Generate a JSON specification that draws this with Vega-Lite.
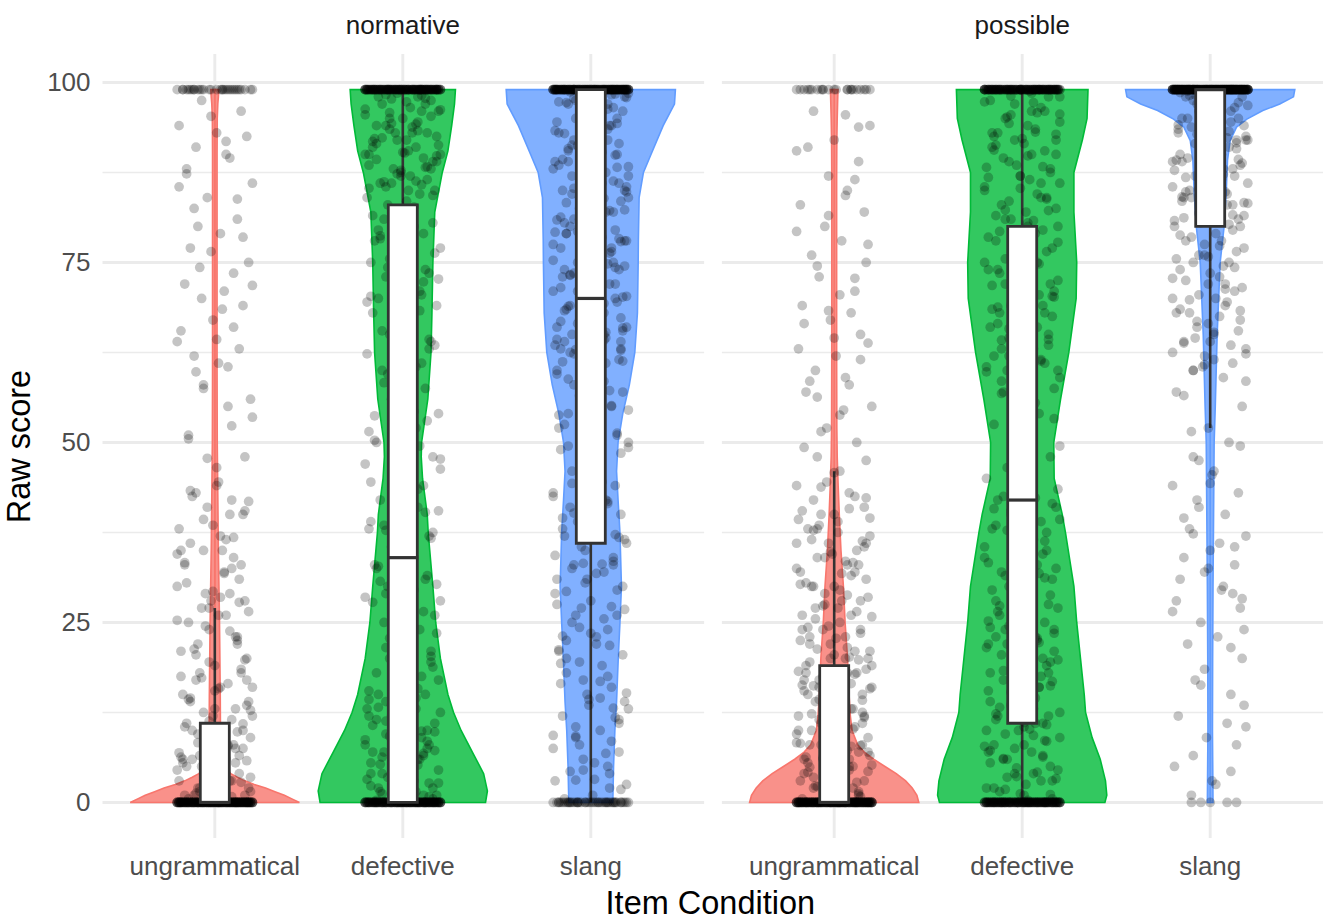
{
"$schema": "https://vega.github.io/schema/vega-lite/v6.json",
"background": "white",
"padding": {"left": 3, "top": 12, "right": 0, "bottom": 0},
"data": {"values": [
{"k":"b","f":"normative","c":"ungrammatical","lo":0,"q1":0,"med":0,"q3":11,"hi":27},
{"k":"b","f":"normative","c":"defective","lo":0,"q1":0,"med":34,"q3":83,"hi":99},
{"k":"b","f":"normative","c":"slang","lo":0,"q1":36,"med":70,"q3":99,"hi":99},
{"k":"b","f":"possible","c":"ungrammatical","lo":0,"q1":0,"med":0,"q3":19,"hi":46},
{"k":"b","f":"possible","c":"defective","lo":0,"q1":11,"med":42,"q3":80,"hi":99},
{"k":"b","f":"possible","c":"slang","lo":52,"q1":80,"med":99,"q3":99,"hi":99},
{"k":"v","f":"normative","c":"ungrammatical","y":[0,0.5,1,1.5,2,2.5,3,3.5,4,5,6,8,10,15,20,25,30,35,40,45,50,60,70,80,90,95,97,98,99],"w":[0.45,0.41,0.37,0.32,0.27,0.21,0.16,0.12,0.085,0.055,0.04,0.03,0.03,0.029,0.027,0.025,0.022,0.019,0.017,0.015,0.013,0.012,0.012,0.012,0.012,0.013,0.016,0.019,0.021]},
{"k":"v","f":"normative","c":"defective","y":[0,1.6,4,7,10,12.5,15,20,25,30,37.5,40,45,48,50,56,62.5,68,75,82,87.5,90.5,94,97,99],"w":[0.44,0.45,0.43,0.37,0.31,0.27,0.24,0.2,0.175,0.16,0.135,0.13,0.105,0.098,0.1,0.133,0.15,0.155,0.16,0.17,0.21,0.24,0.26,0.275,0.28]},
{"k":"v","f":"normative","c":"slang","y":[0,5,10,14,20,25,30,37.5,42,46,50,54,58,62.5,68,75,78,84,87.5,90,94,97,99],"w":[0.117,0.121,0.128,0.137,0.146,0.155,0.163,0.155,0.145,0.137,0.145,0.17,0.205,0.234,0.248,0.252,0.253,0.257,0.28,0.32,0.385,0.445,0.45]},
{"k":"v","f":"possible","c":"ungrammatical","y":[0,1,2,3,4,5,6,7,8,10,12,15,20,25,30,35,40,44,48,52,62,75,87,92,95,97,99],"w":[0.45,0.44,0.415,0.38,0.33,0.27,0.21,0.16,0.125,0.095,0.086,0.079,0.071,0.058,0.049,0.036,0.027,0.021,0.016,0.014,0.013,0.013,0.013,0.014,0.016,0.018,0.02]},
{"k":"v","f":"possible","c":"defective","y":[0,1,3,6,9,12.5,15,20,25,30,37.5,40,45,50,56,62.5,70,75,82,87.5,92,95,99],"w":[0.44,0.45,0.443,0.415,0.372,0.337,0.33,0.31,0.29,0.275,0.23,0.213,0.17,0.168,0.204,0.248,0.287,0.29,0.275,0.275,0.32,0.345,0.35]},
{"k":"v","f":"possible","c":"slang","y":[0,10,20,30,40,50,55,65,75,80,84.6,89.2,91.9,93.8,94.9,96.1,97,98,99],"w":[0.015,0.012,0.013,0.015,0.018,0.021,0.027,0.037,0.053,0.074,0.085,0.092,0.106,0.14,0.195,0.28,0.37,0.443,0.45]},
{"k":"p","f":"normative","c":"ungrammatical","y":[0,0,0,0,0,0,0,0,0,0,0,0,0,0,0,0,0,0,0,0,0,0,0,0,0,0,0,0,0,0,0,0,0,0,0,0,0,0,0,0,0,0,0,0,0,99,99,99,99,99,99,99,99,99,99,99,99,1,2,3,1,4,5,2,6,7,3,8,9,10,2,5,11,12,4,13,14,6,15,16,3,17,18,7,19,20,21,8,22,23,24,9,25,26,27,28,1,29,30,31,12,32,33,34,35,14,36,37,38,40,41,42,43,44,16,18,22,5,26,28,33,6,35,10,23,29,17,2,13,35,40,27,48,51,55,56,58,61,62,63,64,66,67,69,70,71,72,75,77,79,80,81,84,86,88,90,91,93,94,96],
"w":[-3,14,-18,7,19,-9,2,-14,11,-6,17,-20,5,-11,9,0,-16,13,-2,18,-7,4,-13,16,-19,8,-4,12,-10,1,20,-15,6,-1,15,-12,10,-17,3,-8,17,-5,11,-18,2,14,-9,7,-14,19,-3,9,-20,12,-6,4,-11,16,-1,8,-16,13,-7,18,-12,1,-19,10,-4,15,-8,5,-15,20,-2,11,-13,6,-17,3,9,-10,14,-5,0,17,-18,7,-9,12,-3,19,-14,2,-7,16,-11,8,-20,13,-1,5,-16,10,-6,18,-13,3,-19,15,-4,9,-10,1,20,-8,12,-15,6,-2,14,-17,4,-12,11,-5,17,-9,0,-18,8,-3,16,-14,7,19,-6,2,-11,13,-20,10,-1,15,-7,5,-16,18,-13,3,-9,12,-4,20,-15,6,-10,1,-19,14,-2,9,-17,11,-8,17,-12,4,-5,16,-18,7,-3,13,-14,0,19,-11,8,-6,15,-20,2,-9,10,-1,18,-16,5,-7,12,-13,3,20,-4,14,-10,6,-15,11,-6,18,-12,3,9,-19,14,-1,7,-15,20,-8,1,-13,16,-4,11,-17,5,-10,13,-2,19,-16,8,-7,4,-11,17,-20,10,-3,15,-14,2,-9,12,-18,6,0]},
{"k":"p","f":"normative","c":"ungrammatical","y":[0,0,0,0,0,0,0,0,0,0,0,0,0,0,0,0,0,0,0,0,0,0,0,0,0,0,0,0,0,0,0,0,0,0,0,0,0,0,0,0,0,0,0,0,0,0,0,0,0,0,99,99,99,99,99,99,99,99,99,99,0.5,1.5,2.5,3.5,4.5,5.5,6.5,7.5,8.5,9.5,10.5,11.5,12.5,13.5,14.5,15.5,16.5,17.5,18.5,19.5,20.5,22.5,24.5,26.5,28.5,30.5,32.5,34.5,36.5,38.5,40.5,42.5,44.5,1.5,3.5,5.5,7.5,2.5,6.5,9.5,46.5,50.5,53.5,57.5,60.5,65.5,68.5,73.5,76.5,78.5,82.5,85.5,89.5,92.5,97.5],
"w":[8,-12,19,-4,1,-17,13,-8,5,20,-14,3,-19,10,-2,16,-9,6,-15,12,-6,18,-1,-11,15,-20,4,9,-16,2,-7,17,-13,11,0,-18,7,14,-3,-10,20,-5,3,-15,12,-9,18,-2,6,-19,10,-12,1,16,-7,-17,13,4,-11,8,-14,19,-4,2,-20,11,-8,15,-1,5,-16,9,-6,17,-13,0,7,-18,14,-3,-10,12,-5,18,3,-15,9,-20,6,-1,16,-12,2,-8,19,-17,11,-4,13,-9,1,-14,20,-6,7,-18,4,10,-2,15,-11,-19,8,17,-7,5,-13,14,0,-16,3,-9,18,-3,11,-20,6,13,-14,1,-6,16,-10,19,-1,8,-17,4,-12,15,-5,9,-18,2,12,-8,20,-15,7,-2,17,-11,5,-19,10,-4,14,-7,0,-13,16,-16,2,9,-5,19,-12,6,-9,13,-1,-18,11,3,-14,18,-7,8,-20,4,15,-3,-10,12,1,-15,7,20,-6,10,-17,5,-11,17,-2,14,-19,0,-8,6,11,-4,-13,19,2,-10,15,-16,8,-1,13,-7,4,17,-18,-3,9,-12,20,-5,1,-9,14,-15,5,18,-20,10,-6,3,-11,16,-2,12,-17,7,-14,0,6,-8]},
{"k":"p","f":"normative","c":"ungrammatical","y":[0,0,0,0,0,0,0,0,0,0,0,0,0,0,0,0,0,0,0,0,0,0,0,0,0,0,0,0,0,0,0,0,0,0,0,0,0,0,0,0,0,0,0,0,0,0,0,0,0,0,0,0,0,0,0,0,0,0,0,0,0,0,0,0,0,0,0,0,0,0,99,99,99,99,99,99,99,99,99,99,0.8,1.3,2.8,3.3,4.8,5.8,6.3,7.8,8.3,9.8,11.3,12.8,14.3,15.8,17.3,19.8,21.3,23.8,25.3,27.8,29.3,31.8,33.3,36.8,39.3,41.8,43.3,3.9,6.9,10.9,47.8,52.3,59.8,64.3,71.8,74.3,83.8,87.3,91.8,95.3],
"w":[-3,14,-18,7,19,-9,2,-14,11,-6,17,-20,5,-11,9,0,-16,13,-2,18,-7,4,-13,16,-19,8,-4,12,-10,1,20,-15,6,-1,15,-12,10,-17,3,-8,17,-5,11,-18,2,14,-9,7,-14,19,-3,9,-20,12,-6,4,-11,16,-1,8,-16,13,-7,18,-12,1,-19,10,-4,15,-8,5,-15,20,-2,11,-13,6,-17,3,9,-10,14,-5,0,17,-18,7,-9,12,-3,19,-14,2,-7,16,-11,8,-20,13,-1,5,-16,10,-6,18,-13,3,-19,15,-4,9,-10,1,20,-8,12,-15,6,-2]},
{"k":"p","f":"normative","c":"defective","y":[0,0,0,0,0,0,0,0,0,0,0,0,0,0,0,0,0,0,0,0,0,0,0,0,0,0,0,0,0,0,0,0,0,0,0,99,99,99,99,99,99,99,99,99,99,99,99,99,99,99,99,99,99,99,99,99,99,99,99,99,99,99,99,99,99,99,99,99,99,99,99,99,99,99,99,1,2,3,4,5,6,7,8,9,10,11,12,13,14,15,16,17,18,19,20,2,4,6,8,10,3,5,7,9,12,1,15,11,13,21,22,24,25,27,28,30,31,33,34,36,37,39,40,42,44,23,26,29,35,38,41,46,48,50,52,54,56,58,60,53,47,61,62,64,65,66,68,69,70,72,73,74,76,77,78,80,81,82,84,63,67,71,75,79,83,85,86,87,88,89,90,91,92,93,94,95,96,97,98,86,88,90,92,94,96,87,89,91,93,95,97,98,85,90,93],
"w":[-3,14,-18,7,19,-9,2,-14,11,-6,17,-20,5,-11,9,0,-16,13,-2,18,-7,4,-13,16,-19,8,-4,12,-10,1,20,-15,6,-1,15,-12,10,-17,3,-8,17,-5,11,-18,2,14,-9,7,-14,19,-3,9,-20,12,-6,4,-11,16,-1,8,-16,13,-7,18,-12,1,-19,10,-4,15,-8,5,-15,20,-2,11,-13,6,-17,3,9,-10,14,-5,0,17,-18,7,-9,12,-3,19,-14,2,-7,16,-11,8,-20,13,-1,5,-16,10,-6,18,-13,3,-19,15,-4,9,-10,1,20,-8,12,-15,6,-2,14,-17,4,-12,11,-5,17,-9,0,-18,8,-3,16,-14,7,19,-6,2,-11,13,-20,10,-1,15,-7,5,-16,18,-13,3,-9,12,-4,20,-15,6,-10,1,-19,14,-2,9,-17,11,-8,17,-12,4,-5,16,-18,7,-3,13,-14,0,19,-11,8,-6,15,-20,2,-9,10,-1,18,-16,5,-7,12,-13,3,20,-4,14,-10,6,-15,11,-6,18,-12,3,9,-19,14,-1,7,-15,20,-8,1,-13,16,-4,11,-17,5,-10,13,-2,19,-16,8,-7,4,-11,17,-20,10,-3,15,-14,2,-9,12,-18,6,0]},
{"k":"p","f":"normative","c":"defective","y":[0,0,0,0,0,0,0,0,0,0,0,0,0,0,0,0,0,0,0,0,0,0,0,0,0,0,0,0,0,0,0,0,0,0,0,0,0,0,0,0,0,0,0,0,0,99,99,99,99,99,99,99,99,99,99,99,99,99,99,99,99,99,99,99,99,99,99,99,99,99,99,99,99,99,99,99,99,99,99,99,99,99,99,99,99,99,99,99,99,99,0.5,1.5,2.5,3.5,4.5,5.5,6.5,7.5,8.5,9.5,10.5,11.5,12.5,13.5,14.5,15.5,16.5,17.5,18.5,19.5,1.2,3.2,5.2,7.2,9.2,11.2,13.2,2.7,6.7,10.7,20.5,21.5,23.5,25.5,26.5,28.5,29.5,31.5,32.5,34.5,35.5,37.5,38.5,40.5,41.5,43.5,44.5,22.7,30.7,36.7,45.5,49.5,51.5,55.5,57.5,59.5,47.7,53.7,60.5,61.5,63.5,65.5,67.5,69.5,70.5,71.5,73.5,75.5,77.5,79.5,80.5,81.5,83.5,84.5,66.7,72.7,78.7,82.7,85.5,86.5,87.5,88.5,89.5,90.5,91.5,92.5,93.5,94.5,95.5,96.5,97.5,98.5,86.2,88.2,90.2,92.2,94.2,96.2,97.7,98.2],
"w":[8,-12,19,-4,1,-17,13,-8,5,20,-14,3,-19,10,-2,16,-9,6,-15,12,-6,18,-1,-11,15,-20,4,9,-16,2,-7,17,-13,11,0,-18,7,14,-3,-10,20,-5,3,-15,12,-9,18,-2,6,-19,10,-12,1,16,-7,-17,13,4,-11,8,-14,19,-4,2,-20,11,-8,15,-1,5,-16,9,-6,17,-13,0,7,-18,14,-3,-10,12,-5,18,3,-15,9,-20,6,-1,16,-12,2,-8,19,-17,11,-4,13,-9,1,-14,20,-6,7,-18,4,10,-2,15,-11,-19,8,17,-7,5,-13,14,0,-16,3,-9,18,-3,11,-20,6,13,-14,1,-6,16,-10,19,-1,8,-17,4,-12,15,-5,9,-18,2,12,-8,20,-15,7,-2,17,-11,5,-19,10,-4,14,-7,0,-13,16,-16,2,9,-5,19,-12,6,-9,13,-1,-18,11,3,-14,18,-7,8,-20,4,15,-3,-10,12,1,-15,7,20,-6,10,-17,5,-11,17,-2,14,-19,0,-8,6,11,-4,-13,19,2,-10,15,-16,8,-1,13,-7,4,17,-18,-3,9,-12,20,-5,1,-9,14,-15,5,18,-20,10,-6,3,-11,16,-2,12,-17,7,-14,0,6,-8]},
{"k":"p","f":"normative","c":"defective","y":[0,0,0,0,0,0,0,0,0,0,0,0,0,0,0,0,0,0,0,0,0,0,0,0,0,0,0,0,0,0,0,0,0,0,0,0,0,0,0,0,0,0,0,0,0,0,0,0,0,0,0,0,0,0,0,0,0,0,0,0,99,99,99,99,99,99,99,99,99,99,99,99,99,99,99,99,99,99,99,99,99,99,99,99,99,99,99,99,99,99,99,99,99,99,99,99,99,99,99,99,99,99,99,99,99,99,99,99,99,99,99,99,99,99,99,99,99,99,99,99,0.8,2.3,3.8,5.3,6.8,8.3,9.8,11.3,12.8,14.3,15.8,17.3,18.8,0.3,1.5,2.7,3.9,5.1,6.3,7.5,8.7,9.9,11.1,20.3,22.8,25.3,27.8,30.3,32.8,35.3,37.8,40.3,42.8,46.3,50.3,54.3,58.3,60.3,62.3,64.3,66.3,68.3,70.3,72.3,74.3,76.3,78.3,80.3,82.3,84.3,85.3,86.3,87.3,88.3,89.3,90.3,91.3,92.3,93.3,94.3,95.3,96.3,97.3,98.3,85.8,87.8,89.8,91.8,93.8,95.8,97.8],
"w":[-3,14,-18,7,19,-9,2,-14,11,-6,17,-20,5,-11,9,0,-16,13,-2,18,-7,4,-13,16,-19,8,-4,12,-10,1,20,-15,6,-1,15,-12,10,-17,3,-8,17,-5,11,-18,2,14,-9,7,-14,19,-3,9,-20,12,-6,4,-11,16,-1,8,-16,13,-7,18,-12,1,-19,10,-4,15,-8,5,-15,20,-2,11,-13,6,-17,3,9,-10,14,-5,0,17,-18,7,-9,12,-3,19,-14,2,-7,16,-11,8,-20,13,-1,5,-16,10,-6,18,-13,3,-19,15,-4,9,-10,1,20,-8,12,-15,6,-2,14,-17,4,-12,11,-5,17,-9,0,-18,8,-3,16,-14,7,19,-6,2,-11,13,-20,10,-1,15,-7,5,-16,18,-13,3,-9,12,-4,20,-15,6,-10,1,-19,14,-2,9,-17,11,-8,17,-12,4,-5,16,-18,7,-3,13,-14,0,19,-11,8,-6,15,-20,2,-9,10,-1,18,-16,5,-7,12,-13,3,20,-4,14,-10,6,-15,11,-6,18,-12,3,9,-19,14,-1,7,-15,20,-8,1,-13,16,-4,11,-17,5,-10,13,-2,19,-16,8,-7,4,-11,17,-20,10,-3,15,-14,2,-9,12,-18,6,0]},
{"k":"p","f":"normative","c":"slang","y":[99,99,99,99,99,99,99,99,99,99,99,99,99,99,99,99,99,99,99,99,99,99,99,99,99,99,99,99,99,99,99,99,99,99,99,99,99,99,99,99,99,99,99,99,99,99,99,99,99,99,0,0,0,0,0,0,0,0,0,0,0,0,0,0,0,1,3,4,6,7,9,10,12,13,15,16,18,19,21,22,24,25,26,27,28,30,31,32,33,34,35,36,37,38,39,40,41,42,43,44,45,47,49,2,8,14,20,23,29,11,17,5,46,48,50,26,33,38,42,31,51,52,53,54,55,56,57,58,59,60,61,62,63,64,65,66,67,68,69,70,71,72,73,74,75,76,77,78,79,80,81,82,83,84,85,86,87,88,89,90,91,92,93,94,95,96,97,98,62,64,66,68,70,72,74,76,78,80,82,84,86,88,90,92,94,96,98,63,67,71,75,79,83,87,91,95,65,69,73,77,81,85,89,93,97],
"w":[-3,14,-18,7,19,-9,2,-14,11,-6,17,-20,5,-11,9,0,-16,13,-2,18,-7,4,-13,16,-19,8,-4,12,-10,1,20,-15,6,-1,15,-12,10,-17,3,-8,17,-5,11,-18,2,14,-9,7,-14,19,-3,9,-20,12,-6,4,-11,16,-1,8,-16,13,-7,18,-12,1,-19,10,-4,15,-8,5,-15,20,-2,11,-13,6,-17,3,9,-10,14,-5,0,17,-18,7,-9,12,-3,19,-14,2,-7,16,-11,8,-20,13,-1,5,-16,10,-6,18,-13,3,-19,15,-4,9,-10,1,20,-8,12,-15,6,-2,14,-17,4,-12,11,-5,17,-9,0,-18,8,-3,16,-14,7,19,-6,2,-11,13,-20,10,-1,15,-7,5,-16,18,-13,3,-9,12,-4,20,-15,6,-10,1,-19,14,-2,9,-17,11,-8,17,-12,4,-5,16,-18,7,-3,13,-14,0,19,-11,8,-6,15,-20,2,-9,10,-1,18,-16,5,-7,12,-13,3,20,-4,14,-10,6,-15,11,-6,18,-12,3,9,-19,14,-1,7,-15,20,-8,1,-13,16,-4,11,-17,5,-10,13,-2,19,-16,8,-7,4,-11,17,-20,10,-3,15,-14,2,-9,12,-18,6,0]},
{"k":"p","f":"normative","c":"slang","y":[99,99,99,99,99,99,99,99,99,99,99,99,99,99,99,99,99,99,99,99,99,99,99,99,99,99,99,99,99,99,99,99,99,99,99,99,99,99,99,99,99,99,99,99,99,99,99,99,99,99,0,0,0,0,0,0,0,0,0,0,0.5,2.5,4.5,5.5,7.5,8.5,10.5,11.5,13.5,14.5,16.5,17.5,19.5,20.5,22.5,23.5,25.5,27.5,29.5,30.5,32.5,33.5,35.5,36.5,38.5,39.5,41.5,42.5,44.5,46.5,48.5,49.5,3.2,9.2,15.2,21.2,27.2,33.2,37.2,40.2,50.5,52.5,54.5,56.5,58.5,59.5,53.2,57.2,60.5,61.5,62.5,63.5,64.5,65.5,66.5,67.5,68.5,69.5,70.5,71.5,72.5,73.5,74.5,75.5,76.5,77.5,78.5,79.5,80.5,81.5,82.5,83.5,84.5,85.5,86.5,87.5,88.5,89.5,90.5,91.5,92.5,93.5,94.5,95.5,96.5,97.5,98.5,61.2,64.2,67.2,70.2,73.2,76.2,79.2,82.2,85.2,88.2,91.2,94.2,97.2,62.8,66.8,70.8,74.8,78.8,84.8,90.8,95.8,97.8,98.4],
"w":[8,-12,19,-4,1,-17,13,-8,5,20,-14,3,-19,10,-2,16,-9,6,-15,12,-6,18,-1,-11,15,-20,4,9,-16,2,-7,17,-13,11,0,-18,7,14,-3,-10,20,-5,3,-15,12,-9,18,-2,6,-19,10,-12,1,16,-7,-17,13,4,-11,8,-14,19,-4,2,-20,11,-8,15,-1,5,-16,9,-6,17,-13,0,7,-18,14,-3,-10,12,-5,18,3,-15,9,-20,6,-1,16,-12,2,-8,19,-17,11,-4,13,-9,1,-14,20,-6,7,-18,4,10,-2,15,-11,-19,8,17,-7,5,-13,14,0,-16,3,-9,18,-3,11,-20,6,13,-14,1,-6,16,-10,19,-1,8,-17,4,-12,15,-5,9,-18,2,12,-8,20,-15,7,-2,17,-11,5,-19,10,-4,14,-7,0,-13,16,-16,2,9,-5,19,-12,6,-9,13,-1,-18,11,3,-14,18,-7,8,-20,4,15,-3,-10,12,1,-15,7,20,-6,10,-17,5,-11,17,-2,14,-19,0,-8,6,11,-4,-13,19,2,-10,15,-16,8,-1,13,-7,4,17,-18,-3,9,-12,20,-5,1,-9,14,-15,5,18,-20,10,-6,3,-11,16,-2,12,-17,7,-14,0,6,-8]},
{"k":"p","f":"normative","c":"slang","y":[99,99,99,99,99,99,99,99,99,99,99,99,99,99,99,99,99,99,99,99,99,99,99,99,99,99,99,99,99,99,99,99,99,99,99,99,99,99,99,99,99,99,99,99,99,99,99,99,99,99,99,99,99,99,99,99,99,99,99,99,99,99,99,99,99,99,99,99,99,99,0,0,0,0,0,0,0,0,0,0,0,0,0,0,0,0,0,0,0,0,0,0,0,0,0,1.8,4.3,6.8,9.3,11.8,14.3,16.8,19.3,21.8,24.3,26.8,29.3,31.8,34.3,36.8,39.3,41.8,44.3,46.8,49.3,3.1,13.1,23.1,33.1,43.1,51.3,53.8,56.3,58.8,55.1,60.3,61.3,62.3,63.3,64.3,65.3,66.3,67.3,68.3,69.3,70.3,71.3,72.3,73.3,74.3,75.3,76.3,77.3,78.3,79.3,80.3,81.3,82.3,83.3,84.3,85.3,86.3,87.3,88.3,89.3,90.3,91.3,92.3,93.3,94.3,95.3,96.3,97.3,98.3,62.9,65.9,68.9,71.9,74.9,77.9,80.9,83.9,86.9,89.9,92.9,95.9,97.9,98.7],
"w":[-3,14,-18,7,19,-9,2,-14,11,-6,17,-20,5,-11,9,0,-16,13,-2,18,-7,4,-13,16,-19,8,-4,12,-10,1,20,-15,6,-1,15,-12,10,-17,3,-8,17,-5,11,-18,2,14,-9,7,-14,19,-3,9,-20,12,-6,4,-11,16,-1,8,-16,13,-7,18,-12,1,-19,10,-4,15,-8,5,-15,20,-2,11,-13,6,-17,3,9,-10,14,-5,0,17,-18,7,-9,12,-3,19,-14,2,-7,16,-11,8,-20,13,-1,5,-16,10,-6,18,-13,3,-19,15,-4,9,-10,1,20,-8,12,-15,6,-2,14,-17,4,-12,11,-5,17,-9,0,-18,8,-3,16,-14,7,19,-6,2,-11,13,-20,10,-1,15,-7,5,-16,18,-13,3,-9,12,-4,20,-15,6,-10,1,-19,14,-2,9,-17,11,-8,17,-12,4,-5,16,-18,7,-3,13,-14,0,19,-11,8,-6,15,-20,2,-9,10,-1,18,-16,5,-7,12,-13,3,20,-4,14,-10,6,-15,11,-6,18,-12,3,9,-19,14,-1,7,-15,20,-8,1,-13,16,-4,11,-17,5,-10,13,-2,19,-16,8,-7,4,-11,17,-20,10,-3,15,-14,2,-9,12,-18,6,0]},
{"k":"p","f":"possible","c":"ungrammatical","y":[0,0,0,0,0,0,0,0,0,0,0,0,0,0,0,0,0,0,0,0,0,0,0,0,0,0,0,0,0,0,0,0,0,0,0,0,0,0,0,0,0,0,0,0,0,99,99,99,99,99,99,99,99,99,99,1,2,3,4,5,6,7,8,9,10,11,12,13,14,15,16,17,18,19,20,21,22,23,24,25,26,27,28,29,30,31,32,33,34,35,36,37,38,39,40,41,42,43,44,1,2,3,4,5,6,7,8,9,10,11,12,13,14,15,16,17,18,19,20,22,24,26,28,30,32,34,36,38,40,3,6,9,12,15,18,21,24,27,30,33,36,2,5,8,11,14,17,20,23,46,48,50,52,55,57,59,60,62,63,65,67,68,69,71,73,75,76,78,80,82,83,85,87,89,91,92,94,96,58],
"w":[-3,14,-18,7,19,-9,2,-14,11,-6,17,-20,5,-11,9,0,-16,13,-2,18,-7,4,-13,16,-19,8,-4,12,-10,1,20,-15,6,-1,15,-12,10,-17,3,-8,17,-5,11,-18,2,14,-9,7,-14,19,-3,9,-20,12,-6,4,-11,16,-1,8,-16,13,-7,18,-12,1,-19,10,-4,15,-8,5,-15,20,-2,11,-13,6,-17,3,9,-10,14,-5,0,17,-18,7,-9,12,-3,19,-14,2,-7,16,-11,8,-20,13,-1,5,-16,10,-6,18,-13,3,-19,15,-4,9,-10,1,20,-8,12,-15,6,-2,14,-17,4,-12,11,-5,17,-9,0,-18,8,-3,16,-14,7,19,-6,2,-11,13,-20,10,-1,15,-7,5,-16,18,-13,3,-9,12,-4,20,-15,6,-10,1,-19,14,-2,9,-17,11,-8,17,-12,4,-5,16,-18,7,-3,13,-14,0,19,-11,8,-6,15,-20,2,-9,10,-1,18,-16,5,-7,12,-13,3,20,-4,14,-10,6,-15,11,-6,18,-12,3,9,-19,14,-1,7,-15,20,-8,1,-13,16,-4,11,-17,5,-10,13,-2,19,-16,8,-7,4,-11,17,-20,10,-3,15,-14,2,-9,12,-18,6,0]},
{"k":"p","f":"possible","c":"ungrammatical","y":[0,0,0,0,0,0,0,0,0,0,0,0,0,0,0,0,0,0,0,0,0,0,0,0,0,0,0,0,0,0,0,0,0,0,0,0,0,0,0,0,0,0,0,0,0,0,0,0,0,0,99,99,99,99,99,0.5,1.5,2.5,3.5,4.5,5.5,6.5,7.5,8.5,9.5,10.5,11.5,12.5,13.5,14.5,15.5,16.5,17.5,18.5,19.5,20.5,21.5,22.5,23.5,24.5,25.5,26.5,27.5,28.5,29.5,30.5,31.5,32.5,33.5,34.5,35.5,36.5,37.5,38.5,39.5,40.5,42.5,44.5,1.2,2.2,3.2,4.2,5.2,6.2,7.2,8.2,9.2,10.2,12.2,14.2,16.2,18.2,20.2,47.5,51.5,54.5,58.5,61.5,64.5,66.5,70.5,74.5,77.5,81.5,86.5,90.5,95.5],
"w":[8,-12,19,-4,1,-17,13,-8,5,20,-14,3,-19,10,-2,16,-9,6,-15,12,-6,18,-1,-11,15,-20,4,9,-16,2,-7,17,-13,11,0,-18,7,14,-3,-10,20,-5,3,-15,12,-9,18,-2,6,-19,10,-12,1,16,-7,-17,13,4,-11,8,-14,19,-4,2,-20,11,-8,15,-1,5,-16,9,-6,17,-13,0,7,-18,14,-3,-10,12,-5,18,3,-15,9,-20,6,-1,16,-12,2,-8,19,-17,11,-4,13,-9,1,-14,20,-6,7,-18,4,10,-2,15,-11,-19,8,17,-7,5,-13,14,0,-16,3,-9,18,-3,11,-20,6,13,-14,1,-6,16,-10,19,-1,8,-17,4,-12,15,-5,9,-18,2,12,-8,20,-15,7,-2,17,-11,5,-19,10,-4,14,-7,0,-13,16,-16,2,9,-5,19,-12,6,-9,13,-1,-18,11,3,-14,18,-7,8,-20,4,15,-3,-10,12,1,-15,7,20,-6,10,-17,5,-11,17,-2,14,-19,0,-8,6,11,-4,-13,19,2,-10,15,-16,8,-1,13,-7,4,17,-18,-3,9,-12,20,-5,1,-9,14,-15,5,18,-20,10,-6,3,-11,16,-2,12,-17,7,-14,0,6,-8]},
{"k":"p","f":"possible","c":"ungrammatical","y":[0,0,0,0,0,0,0,0,0,0,0,0,0,0,0,0,0,0,0,0,0,0,0,0,0,0,0,0,0,0,0,0,0,0,0,0,0,0,0,0,0,0,0,0,0,0,0,0,0,0,0,0,0,0,0,0,0,0,0,0,0,0,0,0,0,0,0,0,0,0,99,99,99,99,99,99,99,99,0.8,1.3,2.3,2.8,3.8,4.3,5.8,6.3,7.8,8.3,9.8,10.3,11.8,12.3,13.8,14.3,15.8,16.3,17.8,18.3,19.8,21.3,22.8,24.3,25.8,27.3,28.8,30.3,31.8,33.3,34.8,36.3,37.8,39.3,40.8,42.3,43.8,1.9,4.9,7.9,45.8,49.3,53.8,56.3,63.8,68.3,72.8,79.3,84.3,93.8],
"w":[8,-12,19,-4,1,-17,13,-8,5,20,-14,3,-19,10,-2,16,-9,6,-15,12,-6,18,-1,-11,15,-20,4,9,-16,2,-7,17,-13,11,0,-18,7,14,-3,-10,20,-5,3,-15,12,-9,18,-2,6,-19,10,-12,1,16,-7,-17,13,4,-11,8,-14,19,-4,2,-20,11,-8,15,-1,5,-16,9,-6,17,-13,0,7,-18,14,-3,-10,12,-5,18,3,-15,9,-20,6,-1,16,-12,2,-8,19,-17,11,-4,13,-9,1,-14,20,-6,7,-18,4,10,-2,15,-11,-19,8,17,-7,5,-13,14,0,-16,3,-9,18,-3,11,-20,6,13,-14,1,-6,16,-10,19,-1,8,-17,4,-12,15,-5,9,-18,2,12,-8,20,-15,7,-2,17,-11,5,-19,10,-4,14,-7,0,-13]},
{"k":"p","f":"possible","c":"defective","y":[0,0,0,0,0,0,0,0,0,0,0,0,0,0,0,0,0,0,0,0,0,0,0,0,0,0,0,0,0,0,99,99,99,99,99,99,99,99,99,99,99,99,99,99,99,99,99,99,99,99,99,99,99,99,99,99,99,99,99,99,99,99,99,99,99,1,2,3,4,5,6,7,8,9,10,11,12,13,14,15,16,17,18,19,20,21,22,23,24,25,26,27,28,29,30,31,32,33,34,35,36,37,38,39,40,41,42,43,45,48,51,54,57,58,59,60,61,62,63,64,65,66,67,68,69,70,71,72,73,74,75,76,77,78,79,80,81,82,83,84,85,86,87,88,89,90,91,92,93,94,95,96,97,98,2,4,6,8,10,12,14,16,18,20,22,24,26,28,30,3,7,11,15,19,23,27,60,63,66,69,72,75,78,81,84,87,90,93,96,62,68,74,80,86,92,98],
"w":[-3,14,-18,7,19,-9,2,-14,11,-6,17,-20,5,-11,9,0,-16,13,-2,18,-7,4,-13,16,-19,8,-4,12,-10,1,20,-15,6,-1,15,-12,10,-17,3,-8,17,-5,11,-18,2,14,-9,7,-14,19,-3,9,-20,12,-6,4,-11,16,-1,8,-16,13,-7,18,-12,1,-19,10,-4,15,-8,5,-15,20,-2,11,-13,6,-17,3,9,-10,14,-5,0,17,-18,7,-9,12,-3,19,-14,2,-7,16,-11,8,-20,13,-1,5,-16,10,-6,18,-13,3,-19,15,-4,9,-10,1,20,-8,12,-15,6,-2,14,-17,4,-12,11,-5,17,-9,0,-18,8,-3,16,-14,7,19,-6,2,-11,13,-20,10,-1,15,-7,5,-16,18,-13,3,-9,12,-4,20,-15,6,-10,1,-19,14,-2,9,-17,11,-8,17,-12,4,-5,16,-18,7,-3,13,-14,0,19,-11,8,-6,15,-20,2,-9,10,-1,18,-16,5,-7,12,-13,3,20,-4,14,-10,6,-15,11,-6,18,-12,3,9,-19,14,-1,7,-15,20,-8,1,-13,16,-4,11,-17,5,-10,13,-2,19,-16,8,-7,4,-11,17,-20,10,-3,15,-14,2,-9,12,-18,6,0]},
{"k":"p","f":"possible","c":"defective","y":[0,0,0,0,0,0,0,0,0,0,0,0,0,0,0,0,0,0,0,0,0,0,0,0,0,0,0,0,0,0,0,0,0,0,0,0,0,0,0,0,0,0,0,0,0,99,99,99,99,99,99,99,99,99,99,99,99,99,99,99,99,99,99,99,99,99,99,99,99,99,99,99,99,99,99,99,99,99,99,99,99,99,99,99,99,99,99,99,99,99,0.5,1.5,2.5,3.5,4.5,5.5,6.5,7.5,8.5,9.5,10.5,11.5,12.5,13.5,14.5,15.5,16.5,17.5,18.5,19.5,20.5,21.5,22.5,23.5,24.5,25.5,26.5,27.5,28.5,29.5,30.5,31.5,32.5,33.5,34.5,35.5,36.5,37.5,38.5,39.5,40.5,41.5,42.5,43.5,1.2,4.2,7.2,10.2,13.2,16.2,19.2,22.2,25.2,28.2,31.2,46.5,49.5,52.5,55.5,56.5,57.5,58.5,59.5,60.5,61.5,62.5,63.5,64.5,65.5,66.5,67.5,68.5,69.5,70.5,71.5,72.5,73.5,74.5,75.5,76.5,77.5,78.5,79.5,80.5,81.5,82.5,83.5,84.5,85.5,86.5,87.5,88.5,89.5,90.5,91.5,92.5,93.5,94.5,95.5,96.5,97.5,98.5,64.2,70.2,76.2,82.2,88.2,92.2,95.2,97.2],
"w":[8,-12,19,-4,1,-17,13,-8,5,20,-14,3,-19,10,-2,16,-9,6,-15,12,-6,18,-1,-11,15,-20,4,9,-16,2,-7,17,-13,11,0,-18,7,14,-3,-10,20,-5,3,-15,12,-9,18,-2,6,-19,10,-12,1,16,-7,-17,13,4,-11,8,-14,19,-4,2,-20,11,-8,15,-1,5,-16,9,-6,17,-13,0,7,-18,14,-3,-10,12,-5,18,3,-15,9,-20,6,-1,16,-12,2,-8,19,-17,11,-4,13,-9,1,-14,20,-6,7,-18,4,10,-2,15,-11,-19,8,17,-7,5,-13,14,0,-16,3,-9,18,-3,11,-20,6,13,-14,1,-6,16,-10,19,-1,8,-17,4,-12,15,-5,9,-18,2,12,-8,20,-15,7,-2,17,-11,5,-19,10,-4,14,-7,0,-13,16,-16,2,9,-5,19,-12,6,-9,13,-1,-18,11,3,-14,18,-7,8,-20,4,15,-3,-10,12,1,-15,7,20,-6,10,-17,5,-11,17,-2,14,-19,0,-8,6,11,-4,-13,19,2,-10,15,-16,8,-1,13,-7,4,17,-18,-3,9,-12,20,-5,1,-9,14,-15,5,18,-20,10,-6,3,-11,16,-2,12,-17,7,-14,0,6,-8]},
{"k":"p","f":"possible","c":"defective","y":[0,0,0,0,0,0,0,0,0,0,0,0,0,0,0,0,0,0,0,0,0,0,0,0,0,0,0,0,0,0,0,0,0,0,0,0,0,0,0,0,0,0,0,0,0,0,0,0,0,0,0,0,0,0,0,0,0,0,0,0,99,99,99,99,99,99,99,99,99,99,99,99,99,99,99,99,99,99,99,99,99,99,99,99,99,99,99,99,99,99,99,99,99,99,99,99,99,99,99,99,99,99,99,99,99,99,99,99,99,99,99,99,99,99,99,99,99,99,99,99,0.3,1.8,3.3,4.8,6.3,7.8,9.3,10.8,12.3,13.8,15.3,16.8,18.3,19.8,21.3,22.8,24.3,25.8,27.3,28.8,30.3,31.8,33.3,34.8,36.3,37.8,39.3,40.8,42.3,47.3,53.3,56.8,58.3,59.8,61.3,62.8,64.3,65.8,67.3,68.8,70.3,71.8,73.3,74.8,76.3,77.8,79.3,80.8,82.3,83.8,85.3,86.8,88.3,89.8,91.3,92.8,94.3,95.8,97.3,98.8,1.1,3.6,6.1,8.6,11.1,90.6,93.1,95.6,98.1],
"w":[8,-12,19,-4,1,-17,13,-8,5,20,-14,3,-19,10,-2,16,-9,6,-15,12,-6,18,-1,-11,15,-20,4,9,-16,2,-7,17,-13,11,0,-18,7,14,-3,-10,20,-5,3,-15,12,-9,18,-2,6,-19,10,-12,1,16,-7,-17,13,4,-11,8,-14,19,-4,2,-20,11,-8,15,-1,5,-16,9,-6,17,-13,0,7,-18,14,-3,-10,12,-5,18,3,-15,9,-20,6,-1,16,-12,2,-8,19,-17,11,-4,13,-9,1,-14,20,-6,7,-18,4,10,-2,15,-11,-19,8,17,-7,5,-13,14,0,-16,3,-9,18,-3,11,-20,6,13,-14,1,-6,16,-10,19,-1,8,-17,4,-12,15,-5,9,-18,2,12,-8,20,-15,7,-2,17,-11,5,-19,10,-4,14,-7,0,-13,16,-16,2,9,-5,19,-12,6,-9,13,-1,-18,11,3,-14,18,-7,8,-20,4,15,-3,-10,12,1,-15,7,20,-6,10,-17,5,-11,17,-2,14,-19,0,-8,6,11,-4,-13,19,2,-10,15,-16,8,-1,13,-7,4,17,-18,-3,9,-12,20,-5,1,-9,14,-15,5,18,-20,10,-6,3,-11,16,-2,12,-17,7,-14,0,6,-8]},
{"k":"p","f":"possible","c":"slang","y":[99,99,99,99,99,99,99,99,99,99,99,99,99,99,99,99,99,99,99,99,99,99,99,99,99,99,99,99,99,99,99,99,99,99,99,99,99,99,99,99,99,99,99,99,99,99,99,99,99,99,99,99,99,99,99,99,99,99,99,99,99,99,99,99,99,99,99,99,99,99,99,99,99,99,99,99,99,99,99,99,0,0,0,0,0,55,57,59,60,61,62,63,64,65,66,67,68,69,70,71,72,73,74,75,76,77,78,79,80,81,82,83,84,85,86,87,88,89,90,91,92,93,94,95,96,97,98,60,64,68,72,76,80,84,88,92,96,82,85,87,89,91,93,95,97,86,90,94,98,70,75,83,88,92,95,78,1,3,5,8,9,11,12,15,17,20,22,23,25,27,28,30,32,33,34,35,37,38,40,41,43,44,46,48,50,52,24,31,36,42,29],
"w":[-3,14,-18,7,19,-9,2,-14,11,-6,17,-20,5,-11,9,0,-16,13,-2,18,-7,4,-13,16,-19,8,-4,12,-10,1,20,-15,6,-1,15,-12,10,-17,3,-8,17,-5,11,-18,2,14,-9,7,-14,19,-3,9,-20,12,-6,4,-11,16,-1,8,-16,13,-7,18,-12,1,-19,10,-4,15,-8,5,-15,20,-2,11,-13,6,-17,3,9,-10,14,-5,0,17,-18,7,-9,12,-3,19,-14,2,-7,16,-11,8,-20,13,-1,5,-16,10,-6,18,-13,3,-19,15,-4,9,-10,1,20,-8,12,-15,6,-2,14,-17,4,-12,11,-5,17,-9,0,-18,8,-3,16,-14,7,19,-6,2,-11,13,-20,10,-1,15,-7,5,-16,18,-13,3,-9,12,-4,20,-15,6,-10,1,-19,14,-2,9,-17,11,-8,17,-12,4,-5,16,-18,7,-3,13,-14,0,19,-11,8,-6,15,-20,2,-9,10,-1,18,-16,5,-7,12,-13,3,20,-4,14,-10,6,-15,11,-6,18,-12,3,9,-19,14,-1,7,-15,20,-8,1,-13,16,-4,11,-17,5,-10,13,-2,19,-16,8,-7,4,-11,17,-20,10,-3,15,-14,2,-9,12,-18,6,0]},
{"k":"p","f":"possible","c":"slang","y":[99,99,99,99,99,99,99,99,99,99,99,99,99,99,99,99,99,99,99,99,99,99,99,99,99,99,99,99,99,99,99,99,99,99,99,99,99,99,99,99,99,99,99,99,99,99,99,99,99,99,99,99,99,99,99,99,99,99,99,99,56.5,58.5,60.5,61.5,62.5,63.5,64.5,65.5,66.5,67.5,68.5,69.5,70.5,71.5,72.5,73.5,74.5,75.5,76.5,77.5,78.5,79.5,80.5,81.5,82.5,83.5,84.5,85.5,86.5,87.5,88.5,89.5,90.5,91.5,92.5,93.5,94.5,95.5,96.5,97.5,98.5,81.2,83.2,85.2,87.2,89.2,91.2,93.2,95.2,97.2,98.2,80.8,84.8,88.8,92.8,96.8,86.8,90.8,94.8,98.6,2.5,6.5,13.5,18.5,21.5,26.5,29.5,35.5,39.5,45.5,47.5,49.5,51.5,10.5,32.5],
"w":[8,-12,19,-4,1,-17,13,-8,5,20,-14,3,-19,10,-2,16,-9,6,-15,12,-6,18,-1,-11,15,-20,4,9,-16,2,-7,17,-13,11,0,-18,7,14,-3,-10,20,-5,3,-15,12,-9,18,-2,6,-19,10,-12,1,16,-7,-17,13,4,-11,8,-14,19,-4,2,-20,11,-8,15,-1,5,-16,9,-6,17,-13,0,7,-18,14,-3,-10,12,-5,18,3,-15,9,-20,6,-1,16,-12,2,-8,19,-17,11,-4,13,-9,1,-14,20,-6,7,-18,4,10,-2,15,-11,-19,8,17,-7,5,-13,14,0,-16,3,-9,18,-3,11,-20,6,13,-14,1,-6,16,-10,19,-1,8,-17,4,-12,15,-5,9,-18,2,12,-8,20,-15,7,-2,17,-11,5,-19,10,-4,14,-7,0,-13,16,-16,2,9,-5,19,-12,6,-9,13,-1,-18,11,3,-14,18,-7,8,-20,4,15,-3,-10,12,1,-15,7,20,-6,10,-17,5,-11,17,-2,14,-19,0,-8,6,11,-4,-13,19,2,-10,15,-16,8,-1,13,-7,4,17,-18,-3,9,-12,20,-5,1,-9,14,-15,5,18,-20,10,-6,3,-11,16,-2,12,-17,7,-14,0,6,-8]},
{"k":"p","f":"possible","c":"slang","y":[99,99,99,99,99,99,99,99,99,99,99,99,99,99,99,99,99,99,99,99,99,99,99,99,99,99,99,99,99,99,99,99,99,99,99,99,99,99,99,99,99,99,99,99,99,99,99,99,99,99,99,99,99,99,99,99,99,99,99,99,99,99,99,99,99,99,99,99,99,99,99,99,99,99,99,99,99,99,99,99,99,99,99,99,99,99,99,99,99,99,60.8,62.3,63.8,65.3,66.8,68.3,69.8,71.3,72.8,74.3,75.8,77.3,78.8,80.3,81.8,83.3,84.8,86.3,87.8,89.3,90.8,92.3,93.8,95.3,96.8,98.3,81.6,84.1,86.6,89.1,91.6,94.1,96.6,98.8,4.3,16.3,28.3,37.3,44.3],
"w":[-3,14,-18,7,19,-9,2,-14,11,-6,17,-20,5,-11,9,0,-16,13,-2,18,-7,4,-13,16,-19,8,-4,12,-10,1,20,-15,6,-1,15,-12,10,-17,3,-8,17,-5,11,-18,2,14,-9,7,-14,19,-3,9,-20,12,-6,4,-11,16,-1,8,-16,13,-7,18,-12,1,-19,10,-4,15,-8,5,-15,20,-2,11,-13,6,-17,3,9,-10,14,-5,0,17,-18,7,-9,12,-3,19,-14,2,-7,16,-11,8,-20,13,-1,5,-16,10,-6,18,-13,3,-19,15,-4,9,-10,1,20,-8,12,-15,6,-2,14,-17,4,-12,11,-5,17,-9,0,-18,8,-3,16,-14,7,19,-6,2,-11,13,-20,10,-1,15,-7,5,-16,18,-13,3,-9,12,-4,20,-15,6,-10,1,-19,14,-2,9,-17,11,-8,17,-12,4,-5,16,-18,7,-3,13,-14,0,19,-11,8,-6,15,-20,2,-9,10,-1,18,-16,5,-7,12,-13,3,20,-4,14,-10,6,-15,11,-6,18,-12,3,9,-19,14,-1,7,-15,20,-8,1,-13,16,-4,11,-17,5,-10,13,-2,19,-16,8,-7,4,-11,17,-20,10,-3,15,-14,2,-9,12,-18,6,0]}
]},
"spacing": 17.4,
"hconcat": [
 {"transform": [{"filter": "datum.f === 'normative'"}],
  "width": 601.6, "height": 784.1,
  "title": {"text": "normative", "frame": "group", "anchor": "middle", "fontSize": 26, "fontWeight": "normal", "color": "#1A1A1A", "font": "Liberation Sans", "offset": 14},
  "resolve": {"scale": {"x": "independent"}},
  "layer": [
    {"transform": [{"filter": "datum.k === 'b'"}],
     "mark": {"type": "rule", "color": "#EBEBEB", "strokeWidth": 2.9},
     "encoding": {"x": {"field": "c", "type": "nominal", "sort": null, "scale": {"domain": ["ungrammatical", "defective", "slang"], "paddingInner": 0, "paddingOuter": 0.1}, "axis": null}}},
    {"transform": [{"filter": "datum.k === 'v' && datum.c === 'ungrammatical'"}, {"flatten": ["y", "w"]}],
     "mark": {"type": "area", "orient": "horizontal", "opacity": 1, "fillOpacity": 1, "fill": "#F9918A", "stroke": "#F8766D", "strokeWidth": 1.6},
     "encoding": {"y": {"field": "y", "type": "quantitative", "title": "Raw score", "scale": {"domain": [-4.95, 103.95], "nice": false, "zero": false}, "axis": {"values": [0, 12.5, 25, 37.5, 50, 62.5, 75, 87.5, 100], "labelExpr": "datum.value % 25 === 0 ? datum.label : ''", "gridWidth": {"condition": {"test": "datum.value % 25 === 0", "value": 2.9}, "value": 1.45}}},
       "x": {"field": "w", "type": "quantitative", "stack": null, "scale": {"domain": [-0.6, 2.6], "nice": false}, "axis": null}}},
    {"transform": [{"filter": "datum.k === 'v' && datum.c === 'ungrammatical'"}, {"flatten": ["y", "w"]}],
     "mark": {"type": "area", "orient": "horizontal", "opacity": 1, "fillOpacity": 1, "fill": "#F9918A", "stroke": "#F8766D", "strokeWidth": 1.6},
     "encoding": {"y": {"field": "y", "type": "quantitative", "title": "Raw score", "scale": {"domain": [-4.95, 103.95], "nice": false, "zero": false}, "axis": {"values": [0, 12.5, 25, 37.5, 50, 62.5, 75, 87.5, 100], "labelExpr": "datum.value % 25 === 0 ? datum.label : ''", "gridWidth": {"condition": {"test": "datum.value % 25 === 0", "value": 2.9}, "value": 1.45}}},
       "x": {"field": "w", "type": "quantitative", "stack": null, "scale": {"domain": [-2.6, 0.6], "nice": false, "reverse": true}, "axis": null}}},
    {"transform": [{"filter": "datum.k === 'v' && datum.c === 'defective'"}, {"flatten": ["y", "w"]}],
     "mark": {"type": "area", "orient": "horizontal", "opacity": 1, "fillOpacity": 1, "fill": "#33C860", "stroke": "#00BA38", "strokeWidth": 1.6},
     "encoding": {"y": {"field": "y", "type": "quantitative", "title": "Raw score", "scale": {"domain": [-4.95, 103.95], "nice": false, "zero": false}, "axis": {"values": [0, 12.5, 25, 37.5, 50, 62.5, 75, 87.5, 100], "labelExpr": "datum.value % 25 === 0 ? datum.label : ''", "gridWidth": {"condition": {"test": "datum.value % 25 === 0", "value": 2.9}, "value": 1.45}}},
       "x": {"field": "w", "type": "quantitative", "stack": null, "scale": {"domain": [-1.6, 1.6], "nice": false}, "axis": null}}},
    {"transform": [{"filter": "datum.k === 'v' && datum.c === 'defective'"}, {"flatten": ["y", "w"]}],
     "mark": {"type": "area", "orient": "horizontal", "opacity": 1, "fillOpacity": 1, "fill": "#33C860", "stroke": "#00BA38", "strokeWidth": 1.6},
     "encoding": {"y": {"field": "y", "type": "quantitative", "title": "Raw score", "scale": {"domain": [-4.95, 103.95], "nice": false, "zero": false}, "axis": {"values": [0, 12.5, 25, 37.5, 50, 62.5, 75, 87.5, 100], "labelExpr": "datum.value % 25 === 0 ? datum.label : ''", "gridWidth": {"condition": {"test": "datum.value % 25 === 0", "value": 2.9}, "value": 1.45}}},
       "x": {"field": "w", "type": "quantitative", "stack": null, "scale": {"domain": [-1.6, 1.6], "nice": false, "reverse": true}, "axis": null}}},
    {"transform": [{"filter": "datum.k === 'v' && datum.c === 'slang'"}, {"flatten": ["y", "w"]}],
     "mark": {"type": "area", "orient": "horizontal", "opacity": 1, "fillOpacity": 1, "fill": "#81B0FF", "stroke": "#619CFF", "strokeWidth": 1.6},
     "encoding": {"y": {"field": "y", "type": "quantitative", "title": "Raw score", "scale": {"domain": [-4.95, 103.95], "nice": false, "zero": false}, "axis": {"values": [0, 12.5, 25, 37.5, 50, 62.5, 75, 87.5, 100], "labelExpr": "datum.value % 25 === 0 ? datum.label : ''", "gridWidth": {"condition": {"test": "datum.value % 25 === 0", "value": 2.9}, "value": 1.45}}},
       "x": {"field": "w", "type": "quantitative", "stack": null, "scale": {"domain": [-2.6, 0.6], "nice": false}, "axis": null}}},
    {"transform": [{"filter": "datum.k === 'v' && datum.c === 'slang'"}, {"flatten": ["y", "w"]}],
     "mark": {"type": "area", "orient": "horizontal", "opacity": 1, "fillOpacity": 1, "fill": "#81B0FF", "stroke": "#619CFF", "strokeWidth": 1.6},
     "encoding": {"y": {"field": "y", "type": "quantitative", "title": "Raw score", "scale": {"domain": [-4.95, 103.95], "nice": false, "zero": false}, "axis": {"values": [0, 12.5, 25, 37.5, 50, 62.5, 75, 87.5, 100], "labelExpr": "datum.value % 25 === 0 ? datum.label : ''", "gridWidth": {"condition": {"test": "datum.value % 25 === 0", "value": 2.9}, "value": 1.45}}},
       "x": {"field": "w", "type": "quantitative", "stack": null, "scale": {"domain": [-0.6, 2.6], "nice": false, "reverse": true}, "axis": null}}},
    {"transform": [{"filter": "datum.k === 'b'"}],
     "mark": {"type": "rule", "color": "#333333", "strokeWidth": 2.6},
     "encoding": {"x": {"field": "c", "type": "nominal", "sort": null, "scale": {"domain": ["ungrammatical", "defective", "slang"], "paddingInner": 0, "paddingOuter": 0.1}, "axis": {"title": null, "grid": false, "ticks": false, "domain": false, "labelAngle": 0, "labelFontSize": 26, "labelColor": "#4D4D4D", "labelPadding": 15}},
       "y": {"field": "lo", "type": "quantitative", "title": "Raw score", "scale": {"domain": [-4.95, 103.95], "nice": false, "zero": false}, "axis": {"values": [0, 12.5, 25, 37.5, 50, 62.5, 75, 87.5, 100], "labelExpr": "datum.value % 25 === 0 ? datum.label : ''", "gridWidth": {"condition": {"test": "datum.value % 25 === 0", "value": 2.9}, "value": 1.45}}},
       "y2": {"field": "hi"}}},
    {"transform": [{"filter": "datum.k === 'p'"}, {"flatten": ["y", "w"]}, {"filter": "isValid(datum.y)"}],
     "mark": {"type": "circle", "size": 95, "color": "#000000", "opacity": 0.23},
     "encoding": {"x": {"field": "c", "type": "nominal", "sort": null, "scale": {"domain": ["ungrammatical", "defective", "slang"], "paddingInner": 0, "paddingOuter": 0.1}, "axis": null},
       "xOffset": {"field": "w", "type": "quantitative", "scale": {"domain": [-50, 50], "nice": false}},
       "y": {"field": "y", "type": "quantitative", "title": "Raw score", "scale": {"domain": [-4.95, 103.95], "nice": false, "zero": false}, "axis": {"values": [0, 12.5, 25, 37.5, 50, 62.5, 75, 87.5, 100], "labelExpr": "datum.value % 25 === 0 ? datum.label : ''", "gridWidth": {"condition": {"test": "datum.value % 25 === 0", "value": 2.9}, "value": 1.45}}}}},
    {"transform": [{"filter": "datum.k === 'b'"}],
     "mark": {"type": "bar", "size": 29, "fill": "#FFFFFF", "stroke": "#333333", "strokeWidth": 2.8},
     "encoding": {"x": {"field": "c", "type": "nominal", "sort": null, "scale": {"domain": ["ungrammatical", "defective", "slang"], "paddingInner": 0, "paddingOuter": 0.1}, "axis": null},
       "y": {"field": "q1", "type": "quantitative", "title": "Raw score", "scale": {"domain": [-4.95, 103.95], "nice": false, "zero": false}, "axis": {"values": [0, 12.5, 25, 37.5, 50, 62.5, 75, 87.5, 100], "labelExpr": "datum.value % 25 === 0 ? datum.label : ''", "gridWidth": {"condition": {"test": "datum.value % 25 === 0", "value": 2.9}, "value": 1.45}}},
       "y2": {"field": "q3"}}},
    {"transform": [{"filter": "datum.k === 'b'"}],
     "mark": {"type": "tick", "size": 29, "thickness": 3.2, "color": "#333333", "opacity": 1},
     "encoding": {"x": {"field": "c", "type": "nominal", "sort": null, "scale": {"domain": ["ungrammatical", "defective", "slang"], "paddingInner": 0, "paddingOuter": 0.1}, "axis": null},
       "y": {"field": "med", "type": "quantitative", "title": "Raw score", "scale": {"domain": [-4.95, 103.95], "nice": false, "zero": false}, "axis": {"values": [0, 12.5, 25, 37.5, 50, 62.5, 75, 87.5, 100], "labelExpr": "datum.value % 25 === 0 ? datum.label : ''", "gridWidth": {"condition": {"test": "datum.value % 25 === 0", "value": 2.9}, "value": 1.45}}}}}
  ]},
 {"transform": [{"filter": "datum.f === 'possible'"}],
  "width": 601.6, "height": 784.1,
  "title": {"text": "possible", "frame": "group", "anchor": "middle", "fontSize": 26, "fontWeight": "normal", "color": "#1A1A1A", "font": "Liberation Sans", "offset": 14},
  "resolve": {"scale": {"x": "independent"}},
  "layer": [
    {"transform": [{"filter": "datum.k === 'b'"}],
     "mark": {"type": "rule", "color": "#EBEBEB", "strokeWidth": 2.9},
     "encoding": {"x": {"field": "c", "type": "nominal", "sort": null, "scale": {"domain": ["ungrammatical", "defective", "slang"], "paddingInner": 0, "paddingOuter": 0.1}, "axis": null}}},
    {"transform": [{"filter": "datum.k === 'v' && datum.c === 'ungrammatical'"}, {"flatten": ["y", "w"]}],
     "mark": {"type": "area", "orient": "horizontal", "opacity": 1, "fillOpacity": 1, "fill": "#F9918A", "stroke": "#F8766D", "strokeWidth": 1.6},
     "encoding": {"y": {"field": "y", "type": "quantitative", "title": null, "scale": {"domain": [-4.95, 103.95], "nice": false, "zero": false}, "axis": {"values": [0, 12.5, 25, 37.5, 50, 62.5, 75, 87.5, 100], "labels": false, "gridWidth": {"condition": {"test": "datum.value % 25 === 0", "value": 2.9}, "value": 1.45}}},
       "x": {"field": "w", "type": "quantitative", "stack": null, "scale": {"domain": [-0.6, 2.6], "nice": false}, "axis": null}}},
    {"transform": [{"filter": "datum.k === 'v' && datum.c === 'ungrammatical'"}, {"flatten": ["y", "w"]}],
     "mark": {"type": "area", "orient": "horizontal", "opacity": 1, "fillOpacity": 1, "fill": "#F9918A", "stroke": "#F8766D", "strokeWidth": 1.6},
     "encoding": {"y": {"field": "y", "type": "quantitative", "title": null, "scale": {"domain": [-4.95, 103.95], "nice": false, "zero": false}, "axis": {"values": [0, 12.5, 25, 37.5, 50, 62.5, 75, 87.5, 100], "labels": false, "gridWidth": {"condition": {"test": "datum.value % 25 === 0", "value": 2.9}, "value": 1.45}}},
       "x": {"field": "w", "type": "quantitative", "stack": null, "scale": {"domain": [-2.6, 0.6], "nice": false, "reverse": true}, "axis": null}}},
    {"transform": [{"filter": "datum.k === 'v' && datum.c === 'defective'"}, {"flatten": ["y", "w"]}],
     "mark": {"type": "area", "orient": "horizontal", "opacity": 1, "fillOpacity": 1, "fill": "#33C860", "stroke": "#00BA38", "strokeWidth": 1.6},
     "encoding": {"y": {"field": "y", "type": "quantitative", "title": null, "scale": {"domain": [-4.95, 103.95], "nice": false, "zero": false}, "axis": {"values": [0, 12.5, 25, 37.5, 50, 62.5, 75, 87.5, 100], "labels": false, "gridWidth": {"condition": {"test": "datum.value % 25 === 0", "value": 2.9}, "value": 1.45}}},
       "x": {"field": "w", "type": "quantitative", "stack": null, "scale": {"domain": [-1.6, 1.6], "nice": false}, "axis": null}}},
    {"transform": [{"filter": "datum.k === 'v' && datum.c === 'defective'"}, {"flatten": ["y", "w"]}],
     "mark": {"type": "area", "orient": "horizontal", "opacity": 1, "fillOpacity": 1, "fill": "#33C860", "stroke": "#00BA38", "strokeWidth": 1.6},
     "encoding": {"y": {"field": "y", "type": "quantitative", "title": null, "scale": {"domain": [-4.95, 103.95], "nice": false, "zero": false}, "axis": {"values": [0, 12.5, 25, 37.5, 50, 62.5, 75, 87.5, 100], "labels": false, "gridWidth": {"condition": {"test": "datum.value % 25 === 0", "value": 2.9}, "value": 1.45}}},
       "x": {"field": "w", "type": "quantitative", "stack": null, "scale": {"domain": [-1.6, 1.6], "nice": false, "reverse": true}, "axis": null}}},
    {"transform": [{"filter": "datum.k === 'v' && datum.c === 'slang'"}, {"flatten": ["y", "w"]}],
     "mark": {"type": "area", "orient": "horizontal", "opacity": 1, "fillOpacity": 1, "fill": "#81B0FF", "stroke": "#619CFF", "strokeWidth": 1.6},
     "encoding": {"y": {"field": "y", "type": "quantitative", "title": null, "scale": {"domain": [-4.95, 103.95], "nice": false, "zero": false}, "axis": {"values": [0, 12.5, 25, 37.5, 50, 62.5, 75, 87.5, 100], "labels": false, "gridWidth": {"condition": {"test": "datum.value % 25 === 0", "value": 2.9}, "value": 1.45}}},
       "x": {"field": "w", "type": "quantitative", "stack": null, "scale": {"domain": [-2.6, 0.6], "nice": false}, "axis": null}}},
    {"transform": [{"filter": "datum.k === 'v' && datum.c === 'slang'"}, {"flatten": ["y", "w"]}],
     "mark": {"type": "area", "orient": "horizontal", "opacity": 1, "fillOpacity": 1, "fill": "#81B0FF", "stroke": "#619CFF", "strokeWidth": 1.6},
     "encoding": {"y": {"field": "y", "type": "quantitative", "title": null, "scale": {"domain": [-4.95, 103.95], "nice": false, "zero": false}, "axis": {"values": [0, 12.5, 25, 37.5, 50, 62.5, 75, 87.5, 100], "labels": false, "gridWidth": {"condition": {"test": "datum.value % 25 === 0", "value": 2.9}, "value": 1.45}}},
       "x": {"field": "w", "type": "quantitative", "stack": null, "scale": {"domain": [-0.6, 2.6], "nice": false, "reverse": true}, "axis": null}}},
    {"transform": [{"filter": "datum.k === 'b'"}],
     "mark": {"type": "rule", "color": "#333333", "strokeWidth": 2.6},
     "encoding": {"x": {"field": "c", "type": "nominal", "sort": null, "scale": {"domain": ["ungrammatical", "defective", "slang"], "paddingInner": 0, "paddingOuter": 0.1}, "axis": {"title": null, "grid": false, "ticks": false, "domain": false, "labelAngle": 0, "labelFontSize": 26, "labelColor": "#4D4D4D", "labelPadding": 15}},
       "y": {"field": "lo", "type": "quantitative", "title": null, "scale": {"domain": [-4.95, 103.95], "nice": false, "zero": false}, "axis": {"values": [0, 12.5, 25, 37.5, 50, 62.5, 75, 87.5, 100], "labels": false, "gridWidth": {"condition": {"test": "datum.value % 25 === 0", "value": 2.9}, "value": 1.45}}},
       "y2": {"field": "hi"}}},
    {"transform": [{"filter": "datum.k === 'p'"}, {"flatten": ["y", "w"]}, {"filter": "isValid(datum.y)"}],
     "mark": {"type": "circle", "size": 95, "color": "#000000", "opacity": 0.23},
     "encoding": {"x": {"field": "c", "type": "nominal", "sort": null, "scale": {"domain": ["ungrammatical", "defective", "slang"], "paddingInner": 0, "paddingOuter": 0.1}, "axis": null},
       "xOffset": {"field": "w", "type": "quantitative", "scale": {"domain": [-50, 50], "nice": false}},
       "y": {"field": "y", "type": "quantitative", "title": null, "scale": {"domain": [-4.95, 103.95], "nice": false, "zero": false}, "axis": {"values": [0, 12.5, 25, 37.5, 50, 62.5, 75, 87.5, 100], "labels": false, "gridWidth": {"condition": {"test": "datum.value % 25 === 0", "value": 2.9}, "value": 1.45}}}}},
    {"transform": [{"filter": "datum.k === 'b'"}],
     "mark": {"type": "bar", "size": 29, "fill": "#FFFFFF", "stroke": "#333333", "strokeWidth": 2.8},
     "encoding": {"x": {"field": "c", "type": "nominal", "sort": null, "scale": {"domain": ["ungrammatical", "defective", "slang"], "paddingInner": 0, "paddingOuter": 0.1}, "axis": null},
       "y": {"field": "q1", "type": "quantitative", "title": null, "scale": {"domain": [-4.95, 103.95], "nice": false, "zero": false}, "axis": {"values": [0, 12.5, 25, 37.5, 50, 62.5, 75, 87.5, 100], "labels": false, "gridWidth": {"condition": {"test": "datum.value % 25 === 0", "value": 2.9}, "value": 1.45}}},
       "y2": {"field": "q3"}}},
    {"transform": [{"filter": "datum.k === 'b'"}],
     "mark": {"type": "tick", "size": 29, "thickness": 3.2, "color": "#333333", "opacity": 1},
     "encoding": {"x": {"field": "c", "type": "nominal", "sort": null, "scale": {"domain": ["ungrammatical", "defective", "slang"], "paddingInner": 0, "paddingOuter": 0.1}, "axis": null},
       "y": {"field": "med", "type": "quantitative", "title": null, "scale": {"domain": [-4.95, 103.95], "nice": false, "zero": false}, "axis": {"values": [0, 12.5, 25, 37.5, 50, 62.5, 75, 87.5, 100], "labels": false, "gridWidth": {"condition": {"test": "datum.value % 25 === 0", "value": 2.9}, "value": 1.45}}}}}
  ]}
],
"title": {"text": "Item Condition", "orient": "bottom", "anchor": "middle", "fontSize": 32.5, "fontWeight": "normal", "color": "#000000", "font": "Liberation Sans", "offset": 9, "dx": 47},
"config": {
  "font": "Liberation Sans",
  "view": {"stroke": null},
  "axis": {"domain": false, "ticks": false, "gridColor": "#EBEBEB", "labelFont": "Liberation Sans", "labelFontSize": 26, "labelColor": "#4D4D4D", "titleFont": "Liberation Sans", "titleFontSize": 32.5, "titleFontWeight": "normal", "titleColor": "#000000"},
  "axisY": {"labelPadding": 12, "titlePadding": 10}
}
}
